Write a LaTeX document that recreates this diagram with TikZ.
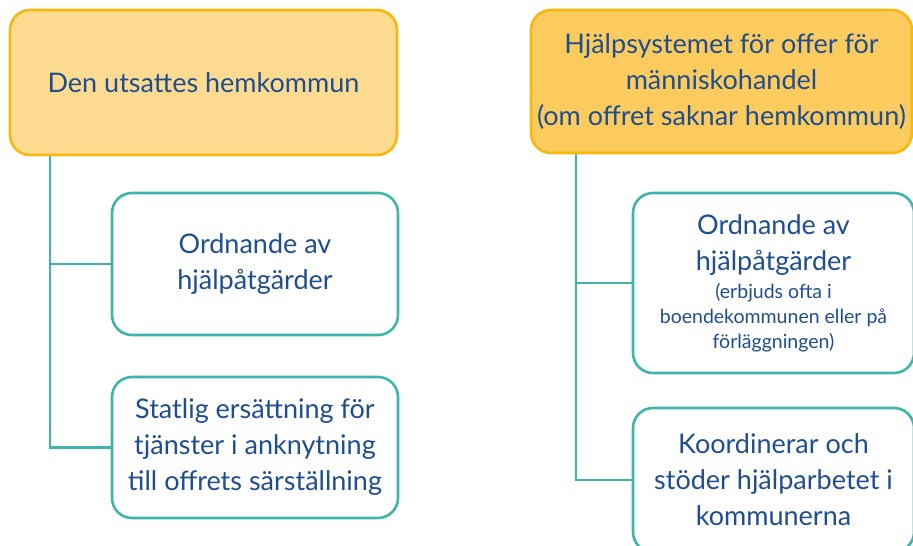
\documentclass[tikz,border=0pt]{standalone}
\usepackage{fontspec}
\setmainfont{Lato}
\usetikzlibrary{positioning}

\definecolor{headfill}{HTML}{FCDA8F}
\definecolor{headfilldark}{HTML}{FBCB5E}
\definecolor{headline}{HTML}{F6B80E}
\definecolor{teal}{HTML}{3DB5A8}
\definecolor{navy}{HTML}{1F4E8F}

\newcommand{\notesize}{\fontsize{19.5}{25}\selectfont}

\tikzset{
  head/.style={draw=headline, fill=headfill, line width=2.6pt, rounded corners=20pt,
    text=navy, align=center, inner sep=0pt, font=\fontsize{27}{36}\selectfont},
  task/.style={draw=teal, fill=white, line width=2.6pt, rounded corners=20pt,
    text=navy, align=center, inner sep=0pt, font=\fontsize{27}{36}\selectfont},
  link/.style={draw=teal, line width=2.6pt}
}

\begin{document}
\begin{tikzpicture}[x=1pt, y=-1pt]
      \useasboundingbox (0,0) rectangle (913,546);
      \clip (0,0) rectangle (913,546);
      % Define nodes
      \node[head, minimum width=387pt, minimum height=145pt] (hemkommun) at (203.5,82.5) {Den utsattes hemkommun};
      \node[task, minimum width=286pt, minimum height=142pt] (lordna) at (255,264) {Ordnande av\\hjälpåtgärder};
      \node[task, minimum width=286pt, minimum height=141pt] (lstat) at (255,447.5) {Statlig ersättning för\\tjänster i anknytning\\till offrets särställning};
      \node[head, fill=headfilldark, minimum width=381pt, minimum height=143pt] (hjalp) at (721.5,81.5) {Hjälpsystemet för offer för\\människohandel\\(om offret saknar hemkommun)};
      \node[task, minimum width=281pt, minimum height=180pt] (rordna) at (773.5,283) {Ordnande av\\hjälpåtgärder\\[-8pt]\notesize (erbjuds ofta i\\[-11pt]\notesize boendekommunen eller på\\[-11pt]\notesize förläggningen)};
      \node[task, minimum width=281pt, minimum height=144pt] (rkoord) at (773.5,480) {Koordinerar och\\stöder hjälparbetet i\\kommunerna};
      % Connect nodes
      \draw[link] ([xshift=-153.5pt]hemkommun.south) |- (lordna.west);
      \draw[link] ([xshift=-153.5pt]hemkommun.south) |- (lstat.west);
      \draw[link] ([xshift=-145.5pt]hjalp.south) |- (rordna.west);
      \draw[link] ([xshift=-145.5pt]hjalp.south) |- (rkoord.west);
    \end{tikzpicture}
\end{document}
